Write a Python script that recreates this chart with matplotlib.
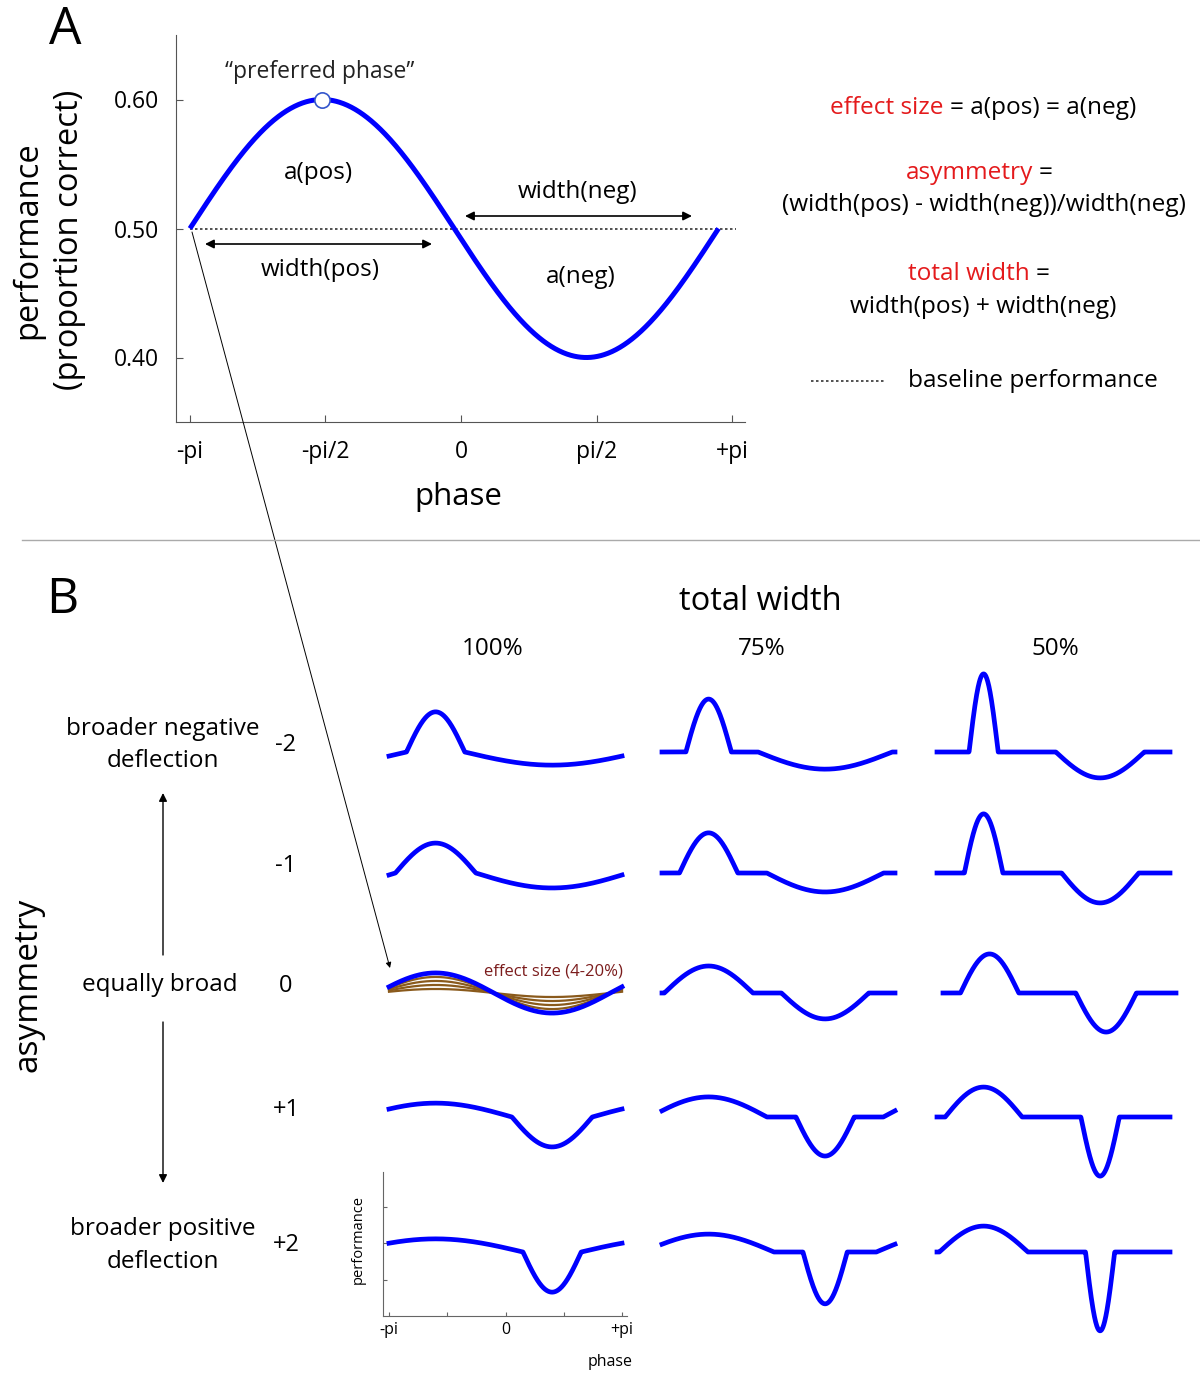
import numpy as np
import matplotlib
matplotlib.use("Agg")
import matplotlib.pyplot as plt
from matplotlib.patches import FancyArrowPatch

plt.rcParams["font.family"] = ["Open Sans", "DejaVu Sans"]

W, H = 1200, 1374
BLUE = "#0000ff"
RED = "#e41a1c"
BROWN = "#8a5a1c"

# panel A: one sinusoid around baseline
PHASE_TICKS = [-np.pi, -np.pi / 2, 0, np.pi / 2, np.pi]
PHASE_LABELS = ["-pi", "-pi/2", "0", "pi/2", "+pi"]
PERF_TICKS = [0.40, 0.50, 0.60]
PERF_LABELS = ["0.40", "0.50", "0.60"]
BASELINE = 0.50
EFFECT_A = 0.10
PREFERRED = -0.5      # units of pi
CURVE_SPAN = 0.975    # the drawn curve stops a bit short of +pi

# panel B: rows = asymmetry, cols = total width
ASYM_LABELS = ["-2", "-1", "0", "+1", "+2"]
WIDTH_LABELS = ["100%", "75%", "50%"]
LOBE_CENTER = -0.6    # centre of positive lobe, units of pi (negative lobe +pi away)
POS_WIDTH = [[0.50, 0.39, 0.25],
             [0.69, 0.50, 0.33],
             [1.00, 0.76, 0.50],
             [1.31, 1.00, 0.66],
             [1.50, 1.12, 0.76]]
NEG_WIDTH = [[1.50, 1.15, 0.76],
             [1.31, 1.00, 0.66],
             [1.00, 0.75, 0.52],
             [0.69, 0.50, 0.33],
             [0.50, 0.38, 0.25]]
POS_AMP = [[0.110, 0.145, 0.214],
           [0.082, 0.110, 0.162],
           [0.055, 0.074, 0.107],
           [0.038, 0.055, 0.082],
           [0.036, 0.049, 0.071]]
NEG_AMP = [[0.036, 0.047, 0.071],
           [0.041, 0.052, 0.082],
           [0.055, 0.071, 0.107],
           [0.082, 0.107, 0.162],
           [0.110, 0.142, 0.216]]
EFFECT_STEPS = [0.2, 0.4, 0.6, 0.8]   # 4-20% curves, fraction of the blue one

ROW_Y = [752, 873, 993, 1117, 1252]   # baseline, px
COL_X = [389, 662, 937]               # -pi, px


def fx(px):
    return px / W


def fy(py):
    return 1 - py / H


def lobes(phase, center, wp, wn, ap, an):
    """baseline with a positive half-cosine lobe and a negative one pi away"""
    y = np.full_like(phase, BASELINE)
    d = (phase - center + np.pi) % (2 * np.pi) - np.pi
    m = np.abs(d) < wp / 2
    y[m] += ap * np.cos(np.pi * d[m] / wp)
    d = (phase - center) % (2 * np.pi) - np.pi
    m = np.abs(d) < wn / 2
    y[m] -= an * np.cos(np.pi * d[m] / wn)
    return y


def arrow(p0, p1, style="-|>", lw=1.0, ms=12, color="black"):
    fig.add_artist(FancyArrowPatch((fx(p0[0]), fy(p0[1])), (fx(p1[0]), fy(p1[1])),
                                   transform=fig.transFigure, arrowstyle=style,
                                   mutation_scale=ms, lw=lw, color=color,
                                   shrinkA=0, shrinkB=0))


def label(x, y, s, size, **kw):
    kw.setdefault("ha", "center")
    kw.setdefault("va", "center")
    fig.text(fx(x), fy(y), s, fontsize=size, **kw)


fig = plt.figure(figsize=(12, 13.74), dpi=100)

# ---------------- panel A ----------------
ax = fig.add_axes([fx(176), fy(422), (745 - 176) / W, (422 - 35) / H])
k = 545 / (2 * np.pi)
ax.set_xlim(-np.pi - 14 / k, np.pi + 13 / k)
ax.set_ylim(0.35, 0.65)
phase = np.linspace(-np.pi, np.pi, 800)
perf = lobes(phase, PREFERRED * np.pi, np.pi, np.pi, EFFECT_A, EFFECT_A)
xs = -np.pi + (phase + np.pi) * CURVE_SPAN
ax.plot([-np.pi, np.pi + 0.05], [BASELINE, BASELINE], ls=(0, (1.5, 1.5)), color="#333333", lw=1.2)
ax.plot(xs, perf, color=BLUE, lw=3.6, solid_capstyle="butt")
xp = -np.pi + (PREFERRED * np.pi + np.pi) * CURVE_SPAN
ax.plot([xp], [BASELINE + EFFECT_A], "o", ms=11, mfc="white", mec="#3355cc", mew=1.2)
for s in ["top", "right"]:
    ax.spines[s].set_visible(False)
for s in ["left", "bottom"]:
    ax.spines[s].set_color("#555555")
ax.set_xticks(PHASE_TICKS, PHASE_LABELS)
ax.set_yticks(PERF_TICKS, PERF_LABELS)
ax.tick_params(direction="in", length=5, color="#555555", labelsize=16.5)
ax.tick_params(axis="x", pad=13)
ax.tick_params(axis="y", pad=12)

label(65, 30, "A", 37)
label(28, 240, "performance", 23.5, rotation=90)
label(70, 240, "(proportion correct)", 23.5, rotation=90)
label(458, 497, "phase", 22.5)
label(320, 72, "\u201cpreferred phase\u201d", 16.5, color="#222222")
label(318, 173, "a(pos)", 17.5)
label(578, 192, "width(neg)", 17.5)
label(320, 270, "width(pos)", 17.5)
label(581, 277, "a(neg)", 17.5)
arrow((205, 244), (432, 244), "<|-|>", lw=1.2, ms=13)
arrow((465, 216), (692, 216), "<|-|>", lw=1.2, ms=13)

# definitions on the right
label(944, 108, "effect size", 17.6, color=RED, ha="right")
label(950, 108, "= a(pos) = a(neg)", 17.6, ha="left")
label(1033, 173, "asymmetry", 17.6, color=RED, ha="right")
label(1039, 173, "=", 17.6, ha="left")
label(984, 205, "(width(pos) - width(neg))/width(neg)", 17.6)
label(1030, 274, "total width", 17.6, color=RED, ha="right")
label(1036, 274, "=", 17.6, ha="left")
label(983, 307, "width(pos) + width(neg)", 17.6)
fig.add_artist(plt.Line2D([fx(811), fx(886)], [fy(381), fy(381)], transform=fig.transFigure,
                          ls=(0, (1.5, 1.5)), color="#333333", lw=1.2))
label(908, 381, "baseline performance", 17.6, ha="left")

# separator
fig.add_artist(plt.Line2D([fx(22), fx(1200)], [fy(540), fy(540)], transform=fig.transFigure,
                          color="#aaaaaa", lw=1.0))

# ---------------- panel B ----------------
label(62, 600, "B", 36)
label(760, 601, "total width", 23.5)
for c, lab in enumerate(WIDTH_LABELS):
    label([493, 762, 1055][c], 649, lab, 17.5)
for r, lab in enumerate(ASYM_LABELS):
    label(286, ROW_Y[r] - 7, lab, 17)
label(163, 729, "broader negative", 17.5)
label(163, 761, "deflection", 17.5)
label(160, 985, "equally broad", 17.5)
label(163, 1229, "broader positive", 17.5)
label(163, 1262, "deflection", 17.5)
label(28, 985, "asymmetry", 24, rotation=90)
arrow((163, 955), (163, 793), lw=1.0, ms=12)
arrow((163, 1022), (163, 1183), lw=1.0, ms=12)

k = 233 / (2 * np.pi)
scale = 365.0   # px per performance unit
for r in range(5):
    for c in range(3):
        x0 = COL_X[c] + (6 if (r, c) == (2, 2) else 0)
        top = ROW_Y[r] - 80
        sax = fig.add_axes([fx(x0 - 6), fy(top + 144), 244 / W, 144 / H])
        sax.set_xlim(-np.pi - 6 / k, np.pi + 5 / k)
        sax.set_ylim(BASELINE - 64 / scale, BASELINE + 80 / scale)
        sax.patch.set_alpha(0)
        wp, wn = POS_WIDTH[r][c] * np.pi, NEG_WIDTH[r][c] * np.pi
        ap, an = POS_AMP[r][c], NEG_AMP[r][c]
        if (r, c) == (2, 0):
            for f in EFFECT_STEPS:
                sax.plot(phase, lobes(phase, LOBE_CENTER * np.pi, wp, wn, ap * f, an * f),
                         color=BROWN, lw=1.6, clip_on=False)
        sax.plot(phase, lobes(phase, LOBE_CENTER * np.pi, wp, wn, ap, an),
                 color=BLUE, lw=3.4, clip_on=False, solid_joinstyle="round")
        if (r, c) == (4, 0):
            for s in ["top", "right"]:
                sax.spines[s].set_visible(False)
            for s in ["left", "bottom"]:
                sax.spines[s].set_color("#666666")
            sax.set_xticks(PHASE_TICKS, ["-pi", "", "0", "", "+pi"])
            sax.set_yticks([0.423, 0.525, 0.623], [])
            sax.tick_params(direction="in", length=3, color="#666666", labelsize=11.5, pad=4)
        else:
            sax.axis("off")

label(553, 972, "effect size (4-20%)", 12, color="#7b1c1c")
label(358, 1240, "performance", 10.5, rotation=90)
label(610, 1362, "phase", 11.5)

# pointer from panel A start to the symmetric curve in panel B
arrow((192, 232), (390, 968), "-|>", lw=0.7, ms=8)

fig.savefig("out.png", dpi=100)
